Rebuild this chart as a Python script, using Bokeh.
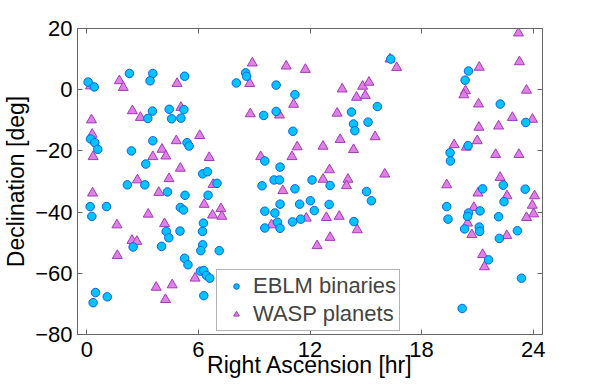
from bokeh.plotting import figure
from bokeh.models import FixedTicker, LinearAxis, Legend, LegendItem
from bokeh.embed import file_html
from bokeh.resources import INLINE

# EBLM binaries (RA [hr], Dec [deg])
eblm_ra = [0.07, 0.4, 2.29, 3.55, 3.4, 5.26, 8.04, 3.53, 3.28, 4.43, 4.56, 5.06, 5.22,
           0.2, 0.43, 0.59, 2.4, 3.55, 5.39, 5.5, 3.17, 6.23, 6.48, 7.0,
           2.18, 3.12, 4.34, 5.28, 6.52, 0.18, 0.27, 1.06, 5.03, 5.2, 6.27, 6.22,
           4.27, 4.41, 5.01, 2.49, 4.02, 6.23, 6.13, 7.12, 5.26, 5.44, 6.11, 6.29,
           6.43, 6.61, 0.47, 1.1, 0.34, 6.29,
           16.34, 8.54, 8.59, 10.18, 11.19, 9.51, 10.18, 11.08, 14.23, 14.34, 14.41,
           15.12, 15.62, 9.57, 10.39,
           10.07, 10.36, 12.11, 9.42, 11.19, 13.08, 15.04, 15.3, 10.39, 11.44, 12.02,
           13.03, 9.57, 10.11, 12.23, 10.25, 11.06, 11.5, 9.57, 10.39, 14.36,
           20.52, 20.34, 22.23, 23.6, 20.5, 19.53, 19.55,
           21.28, 22.39, 23.57, 22.43, 19.35, 19.42, 20.52, 20.47, 21.14, 22.14,
           20.31, 21.1, 21.12, 22.18, 23.15, 21.6, 23.37, 20.18]
eblm_dec = [2.5, 0.9, 5.3, 5.3, 2.9, 4.4, 2.2, -7.0, -9.4, -6.4, -9.5, -9.3, -6.5,
            -16.1, -17.3, -19.5, -20.0, -16.7, -17.3, -18.4, -24.3, -27.5, -26.8, -30.6,
            -31.1, -31.1, -33.4, -34.5, -34.5, -38.2, -41.4, -38.2, -38.5, -39.3, -43.6, -46.3,
            -46.3, -48.4, -46.2, -51.4, -51.2, -50.7, -52.6, -52.6, -55.1, -57.2, -59.3, -59.1,
            -60.7, -61.6, -66.3, -67.7, -69.6, -67.3,
            10.0, 5.5, 4.4, 1.5, -1.6, -8.4, -7.1, -13.6, -7.3, -11.2, -13.4,
            -10.6, -5.5, -23.3, -25.3,
            -29.5, -29.5, -29.5, -31.4, -32.4, -31.3, -33.3, -36.3, -37.4, -37.4, -36.3,
            -37.5, -39.7, -40.3, -39.5, -43.3, -43.2, -42.3, -45.2, -45.3, -43.1,
            6.1, 3.1, -4.7, -10.7, -18.3, -20.6, -23.3,
            -32.4, -31.2, -32.5, -36.6, -38.2, -42.3, -40.3, -41.4, -39.6, -41.5,
            -45.5, -44.9, -46.3, -48.6, -46.1, -55.6, -61.6, -71.5]

# WASP planets (RA [hr], Dec [deg])
wasp_ra = [0.2, 1.75, 1.96, 4.85, 2.45, 2.88, 5.06, 0.25, 0.29, 0.34, 4.04, 3.55, 4.25,
           4.81, 6.07, 6.58, 5.03, 2.72, 4.42,
           0.31, 3.87, 6.79, 6.31, 3.3, 1.62, 4.18, 6.76, 7.21, 7.26, 2.43, 2.69, 1.64,
           5.82, 3.73, 4.59, 4.23,
           8.9, 10.72, 11.75, 8.76, 16.3, 16.66, 13.73, 14.83, 15.17, 14.5, 14.97, 11.12,
           8.79, 10.36, 13.46, 13.62, 11.31, 12.7, 14.34, 15.5, 9.35, 11.03, 13.05, 16.02,
           12.7, 14.04, 13.96, 10.54, 11.8, 12.88, 13.57, 9.93, 14.54, 13.08, 12.38,
           23.21, 23.26, 21.1, 20.36, 20.27, 23.64, 21.06, 22.88, 23.96, 22.14, 21.08,
           19.75, 20.4, 20.99, 21.98, 23.23, 22.22,
           19.35, 21.03, 22.59, 24.07, 23.95, 24.02, 23.64, 20.81, 20.47, 20.7, 22.58,
           21.28, 21.38]
wasp_dec = [1.2, 2.9, 0.7, 2.0, -6.9, -9.1, -5.8, -9.9, -14.6, -21.9, -19.5, -21.9, -21.7,
            -16.7, -15.0, -22.2, -25.7, -29.5, -29.1,
            -33.8, -33.6, -31.0, -37.5, -40.7, -44.2, -43.8, -41.0, -38.9, -41.4, -49.3, -49.6, -54.2,
            -61.6, -64.6, -63.8, -68.6,
            8.7, 7.7, 6.6, 2.0, 10.0, 7.2, 0.2, 1.1, 2.4, -2.5, -1.9, -4.8,
            -7.9, -8.3, -7.7, -16.3, -18.7, -18.5, -19.6, -15.4, -21.9, -21.9, -26.2, -27.6,
            -29.3, -29.3, -31.4, -33.0, -42.0, -41.8, -41.4, -44.2, -45.8, -48.3, -51.0,
            18.5, 9.1, 7.3, -0.4, -1.7, -0.2, -4.7, -9.1, -9.7, -11.9, -12.3,
            -18.0, -18.8, -16.7, -21.2, -21.2, -28.7,
            -31.1, -33.8, -34.7, -34.7, -37.8, -40.6, -41.8, -38.5, -43.6, -47.4, -47.7,
            -53.9, -57.9]

x_ticks = [0, 6, 12, 18, 24]
y_ticks = [-80, -60, -40, -20, 0, 20]
x_label = "Right Ascension [hr]"
y_label = "Declination [deg]"
series_names = ["EBLM binaries", "WASP planets"]

FONT = "Liberation Sans"
AX = "#666666"

p = figure(width=598, height=386, x_range=(-0.5, 24.5), y_range=(-80, 20),
           output_backend="svg", toolbar_location=None,
           min_border_left=77, min_border_top=28, min_border_right=56, min_border_bottom=52)
p.xgrid.visible = False
p.ygrid.visible = False
p.outline_line_color = AX
p.background_fill_color = "white"
p.border_fill_color = "white"


def minus(v):
    return str(v).replace("-", "\u2212")


def style_axis(ax, ticks, show_labels):
    ax.ticker = FixedTicker(ticks=ticks)
    ax.axis_line_color = AX
    ax.major_tick_line_color = AX
    ax.major_tick_in = 5
    ax.major_tick_out = 0
    ax.minor_tick_line_color = None
    ax.major_label_text_font = FONT
    ax.major_label_text_color = "black"
    if show_labels:
        ax.major_label_text_font_size = "22px"
        ax.major_label_overrides = {t: minus(t) for t in ticks}
    else:
        ax.major_label_text_font_size = "0px"
        ax.major_label_standoff = 0
        ax.major_label_text_alpha = 0


xa = p.xaxis[0]
ya = p.yaxis[0]
style_axis(xa, x_ticks, True)
style_axis(ya, y_ticks, True)
xa.major_label_standoff = 7
xa.axis_label = x_label
xa.axis_label_text_font = FONT
xa.axis_label_text_font_size = "23px"
xa.axis_label_text_font_style = "normal"
xa.axis_label_text_color = "black"
xa.axis_label_standoff = -8
ya.major_label_standoff = 5
ya.axis_label = y_label
ya.axis_label_text_font = FONT
ya.axis_label_text_font_size = "23px"
ya.axis_label_text_font_style = "normal"
ya.axis_label_text_color = "black"
ya.axis_label_standoff = 3

top = LinearAxis()
style_axis(top, x_ticks, False)
p.add_layout(top, "above")
right = LinearAxis()
style_axis(right, y_ticks, False)
p.add_layout(right, "right")

r_w = p.scatter(wasp_ra, wasp_dec, marker="triangle", size=10,
                fill_color="#e07fe6", line_color="#a03cb4", line_width=1)
r_e = p.scatter(eblm_ra, eblm_dec, marker="circle", size=8.5,
                fill_color="#00c4ff", line_color="#1060e8", line_width=1)

legend = Legend(items=[LegendItem(label=series_names[0], renderers=[r_e]),
                       LegendItem(label=series_names[1], renderers=[r_w])],
                location=(139, 3), margin=0, padding=3, spacing=2,
                glyph_width=32, glyph_height=14, label_height=24, label_standoff=1,
                label_text_font=FONT, label_text_font_size="22px",
                border_line_color=AX, border_line_width=1,
                background_fill_color="white", background_fill_alpha=1)
p.add_layout(legend, "center")

open("out.html", "w").write(file_html(p, INLINE))
